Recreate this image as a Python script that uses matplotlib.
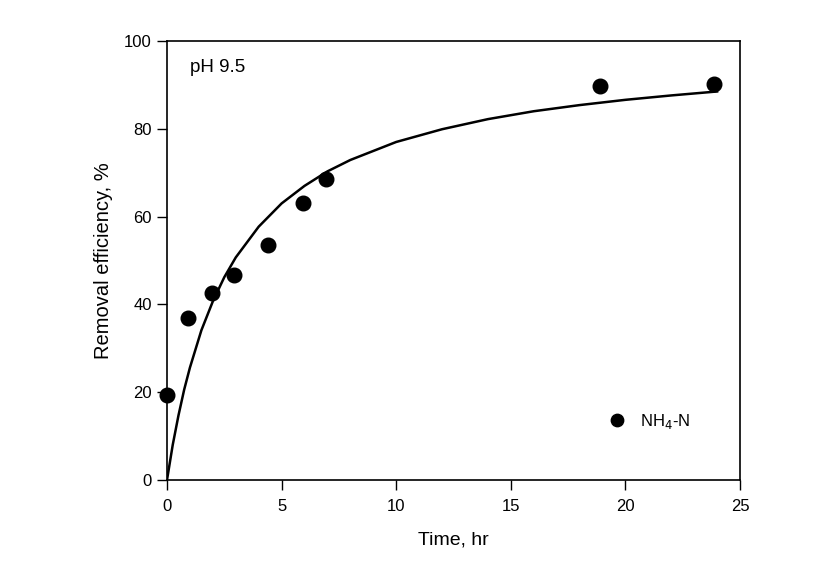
import matplotlib
matplotlib.use("Agg")
import matplotlib.pyplot as plt

plt.rcParams['font.family'] = ['Liberation Sans', 'DejaVu Sans']

# Measured points
time_hr = [0, 0.92, 1.96, 2.92, 4.4, 5.93, 6.94, 18.9, 23.87]
removal = [19.4, 36.9, 42.6, 46.7, 53.5, 63.1, 68.6, 89.7, 90.2]

# Fitted curve, values
curve_x = [0, 0.25, 0.5, 0.75, 1, 1.5, 2, 2.5, 3, 4, 5, 6, 7, 8, 10, 12, 14, 16, 18, 20, 22, 24]
curve_y = [0, 8.0, 14.7, 20.6, 25.6, 34.1, 40.7, 46.2, 50.7, 57.7, 63.0, 67.0, 70.3, 72.9,
           77.0, 79.9, 82.2, 84.0, 85.4, 86.6, 87.6, 88.5]

x_ticks = [0, 5, 10, 15, 20, 25]
y_ticks = [0, 20, 40, 60, 80, 100]

fig = plt.figure(figsize=(8.25, 5.64), dpi=100)
ax = fig.add_axes([167/825, 1-480/564, (740-167)/825, (480-41)/564])

ax.plot(curve_x, curve_y, color='black', lw=1.8, zorder=2)
ax.plot(time_hr, removal, 'o', color='black', ms=10.5, label='NH$_4$-N', zorder=3, clip_on=False)

ax.set_xlim(0, 25)
ax.set_ylim(0, 100)
ax.set_xticks(x_ticks)
ax.set_yticks(y_ticks)
ax.tick_params(direction='out', length=7, width=1, labelsize=12, top=False, right=False)
ax.tick_params(axis='x', pad=7)
ax.tick_params(axis='y', pad=4)
for s in ax.spines.values():
    s.set_linewidth(1.2)

ax.set_xlabel('Time, hr', fontsize=14, labelpad=12)
ax.set_ylabel('Removal efficiency, %', fontsize=14.5, labelpad=8)

ax.text(0.04, 0.94, 'pH 9.5', transform=ax.transAxes, fontsize=13.5, va='center', ha='left')

ax.legend(loc='center left', bbox_to_anchor=(0.73, 0.133), frameon=False, fontsize=12,
          handletextpad=0.4, markerscale=0.85)

fig.savefig('out.png', dpi=100)
